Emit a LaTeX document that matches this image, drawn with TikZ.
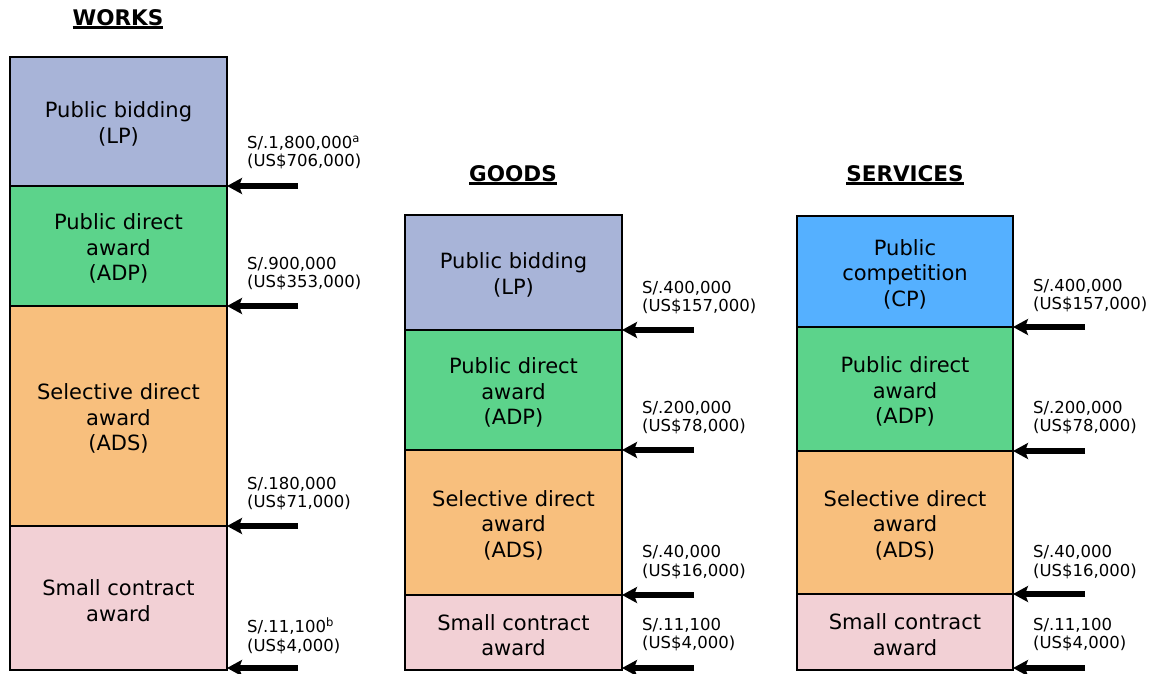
\documentclass[tikz,border=0pt]{standalone}
\usepackage{fontspec}
\setmainfont{DejaVu Sans}
\usetikzlibrary{arrows.meta}
\definecolor{lpc}{HTML}{A8B4D8}
\definecolor{adpc}{HTML}{5CD38B}
\definecolor{adsc}{HTML}{F8BF7D}
\definecolor{scc}{HTML}{F2D0D5}
\definecolor{cpc}{HTML}{55B0FF}
\newcommand\ttlul[1]{\setbox0\hbox{#1}\rlap{\rule[-3.5pt]{\wd0}{2.5pt}}\box0}
\newcommand\dn{\rule{0pt}{21pt}}
\begin{document}
\begin{tikzpicture}[x=1pt,y=-1pt,
  blk/.style={draw=black,line width=2pt,minimum width=217pt,inner sep=0pt,outer sep=0pt,anchor=north west,align=center,font=\fontsize{21}{25.5}\selectfont},
  val/.style={anchor=west,align=left,inner sep=0pt,font=\fontsize{16.5}{18.5}\selectfont},
  ttl/.style={anchor=base,inner sep=0pt,font=\fontsize{21.5}{24}\selectfont\bfseries},
  arr/.style={line width=5.5pt,-{Stealth[length=15pt,width=16pt,inset=3pt]}}]
\useasboundingbox (0,0) rectangle (1149,673);

% WORKS
\node[ttl] (tw) at (118,25) {\ttlul{WORKS}};
\node[blk,fill=lpc,minimum height=129pt] (wlp) at (10,57) {\dn Public bidding\\(LP)};
\node[blk,fill=adpc,minimum height=120pt] (wadp) at (10,186) {\dn Public direct\\award\\(ADP)};
\node[blk,fill=adsc,minimum height=220pt] (wads) at (10,306) {\dn Selective direct\\award\\(ADS)};
\node[blk,fill=scc,minimum height=144pt] (wsc) at (10,526) {\dn Small contract\\award};
\coordinate (wa1) at (298,186);
\coordinate (wa2) at (298,306);
\coordinate (wa3) at (298,526);
\coordinate (wa4) at (298,668);
\draw[arr] (wa1) -- (wlp.south east);
\draw[arr] (wa2) -- (wadp.south east);
\draw[arr] (wa3) -- (wads.south east);
\draw[arr] (wa4) -- ([yshift=2pt]wsc.south east);
\node[val] (wv1) at (247,152.5) {S/.1,800,000\textsuperscript{a}\\(US\$706,000)};
\node[val] (wv2) at (247,273.5) {S/.900,000\\(US\$353,000)};
\node[val] (wv3) at (247,493.5) {S/.180,000\\(US\$71,000)};
\node[val] (wv4) at (247,635.5) {S/.11,100\textsuperscript{b}\\(US\$4,000)};

% GOODS
\node[ttl] (tg) at (513,181) {\ttlul{GOODS}};
\node[blk,fill=lpc,minimum height=115pt] (glp) at (405,215) {\dn Public bidding\\(LP)};
\node[blk,fill=adpc,minimum height=120pt] (gadp) at (405,330) {\dn Public direct\\award\\(ADP)};
\node[blk,fill=adsc,minimum height=145pt] (gads) at (405,450) {\dn Selective direct\\award\\(ADS)};
\node[blk,fill=scc,minimum height=75pt] (gsc) at (405,595) {\dn Small contract\\award};
\coordinate (ga1) at (694,330);
\coordinate (ga2) at (694,450);
\coordinate (ga3) at (694,595);
\coordinate (ga4) at (694,668);
\draw[arr] (ga1) -- (glp.south east);
\draw[arr] (ga2) -- (gadp.south east);
\draw[arr] (ga3) -- (gads.south east);
\draw[arr] (ga4) -- ([yshift=2pt]gsc.south east);
\node[val] (gv1) at (642,297.5) {S/.400,000\\(US\$157,000)};
\node[val] (gv2) at (642,417.5) {S/.200,000\\(US\$78,000)};
\node[val] (gv3) at (642,562) {S/.40,000\\(US\$16,000)};
\node[val] (gv4) at (642,634.5) {S/.11,100\\(US\$4,000)};

% SERVICES
\node[ttl] (ts) at (905,181) {\ttlul{SERVICES}};
\node[blk,fill=cpc,minimum width=216pt,minimum height=111pt] (scp) at (797,216) {\dn Public\\competition\\(CP)};
\node[blk,fill=adpc,minimum width=216pt,minimum height=124pt] (sadp) at (797,327) {\dn Public direct\\award\\(ADP)};
\node[blk,fill=adsc,minimum width=216pt,minimum height=143pt] (sads) at (797,451) {\dn Selective direct\\award\\(ADS)};
\node[blk,fill=scc,minimum width=216pt,minimum height=76pt] (ssc) at (797,594) {\dn Small contract\\award};
\coordinate (sa1) at (1085,327);
\coordinate (sa2) at (1085,451);
\coordinate (sa3) at (1085,594);
\coordinate (sa4) at (1085,668);
\draw[arr] (sa1) -- (scp.south east);
\draw[arr] (sa2) -- (sadp.south east);
\draw[arr] (sa3) -- (sads.south east);
\draw[arr] (sa4) -- ([yshift=2pt]ssc.south east);
\node[val] (sv1) at (1033,295.5) {S/.400,000\\(US\$157,000)};
\node[val] (sv2) at (1033,417.5) {S/.200,000\\(US\$78,000)};
\node[val] (sv3) at (1033,562) {S/.40,000\\(US\$16,000)};
\node[val] (sv4) at (1033,634.5) {S/.11,100\\(US\$4,000)};
\end{tikzpicture}
\end{document}
